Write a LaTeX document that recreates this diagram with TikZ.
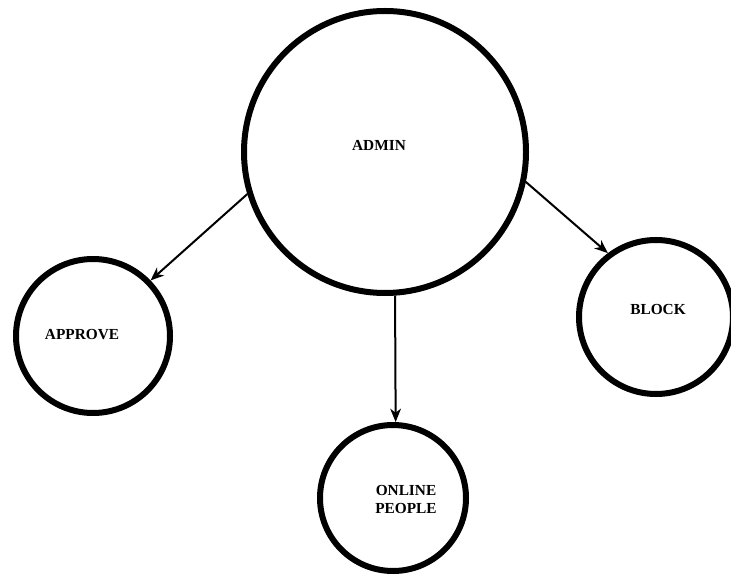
\documentclass[tikz,border=0pt]{standalone}
\usepackage{fontspec}
\setmainfont{Liberation Serif}
\usetikzlibrary{arrows.meta}
\begin{document}
\begin{tikzpicture}[x=0.75pt,y=-0.75pt,
  bubble/.style={circle,draw=black,line width=4.5pt,inner sep=0pt,fill=white},
  caption/.style={font=\fontsize{11.5}{13.5}\selectfont\bfseries,align=center,inner sep=0pt},
  link/.style={line width=1.5pt,-{Stealth[length=10pt,width=8pt,inset=3pt]}}]
  \useasboundingbox[fill=white] (0,0) rectangle (731,577);

  % circles
  \node[bubble,minimum size=211.5pt] (admin)   at (385,152) {};
  \node[bubble,minimum size=115.5pt] (approve) at (93,336)  {};
  \node[bubble,minimum size=115.5pt] (block)   at (656,317) {};
  \node[bubble,minimum size=109.5pt] (online)  at (393,498) {};

  % labels
  \node[caption] (admintxt)   at (379,145) {ADMIN};
  \node[caption] (approvetxt) at (82,335)  {APPROVE};
  \node[caption] (blocktxt)   at (658,309) {BLOCK};
  \node[caption] (onlinetxt)  at (406,499) {ONLINE\\ PEOPLE};

  % connectors
  \draw[link] (admin.197.5) -- (approve.44.5);
  \draw[link] (admin.-12.5) -- (block.127);
  \draw[link] (admin.274) -- (online.88.5);
\end{tikzpicture}
\end{document}
